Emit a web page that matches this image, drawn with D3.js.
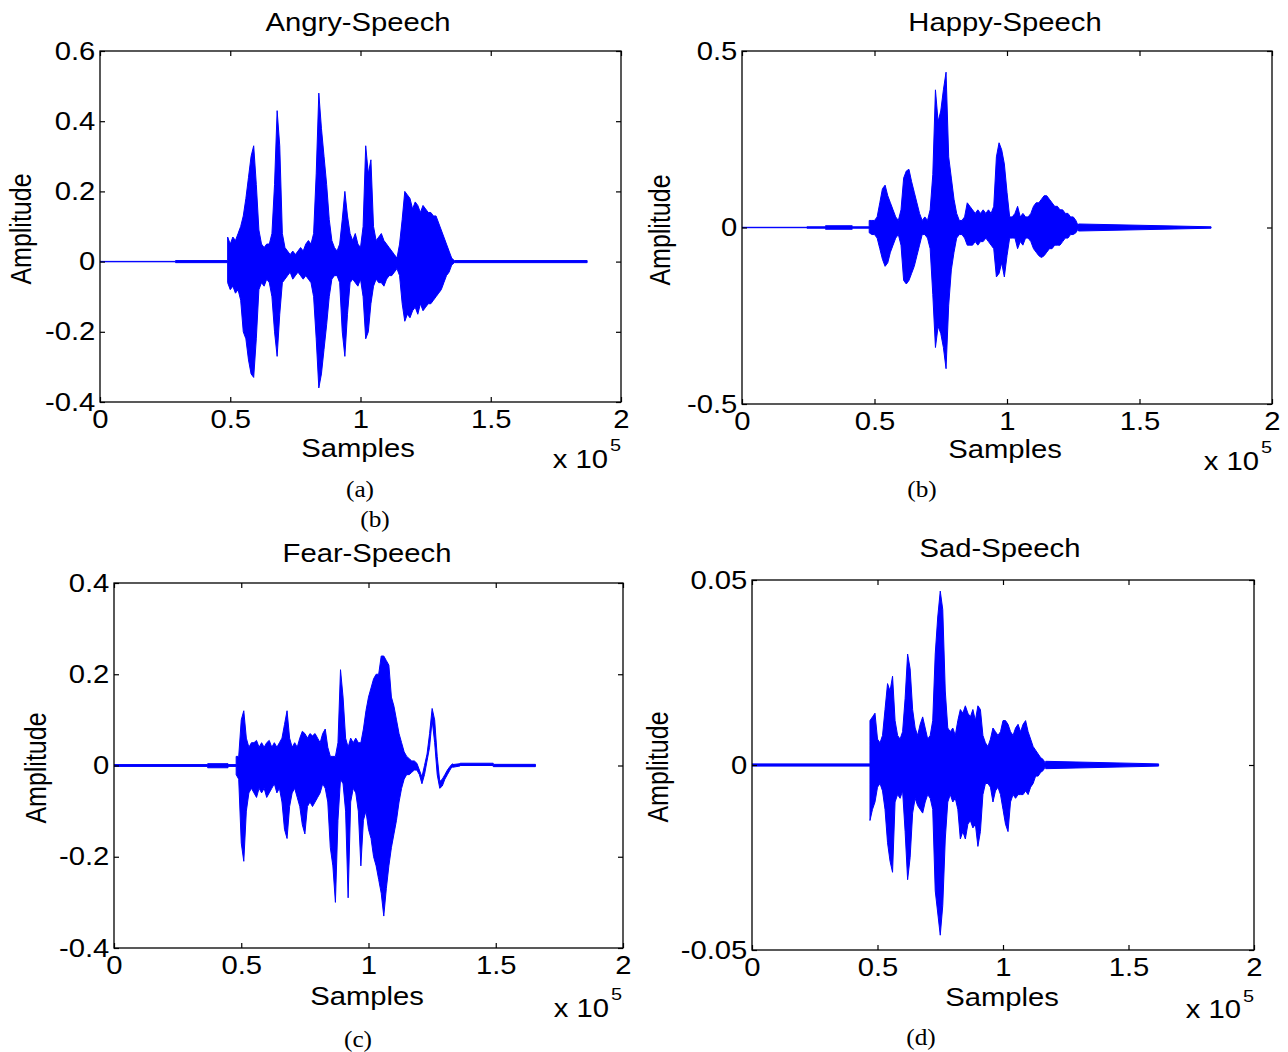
<!DOCTYPE html>
<html>
<head>
<meta charset="utf-8">
<script src="https://cdn.jsdelivr.net/npm/d3@7"></script>
<style>
  body { margin: 0; background: #ffffff; }
  svg { display: block; }
</style>
</head>
<body>
<svg id="fig" width="1288" height="1052"></svg>
<script>
// ---- shared axis labels -------------------------------------------------
const xTickValues = [0, 50000, 100000, 150000, 200000];
const xTickLabels = ["0", "0.5", "1", "1.5", "2"];
const titles = ["Angry-Speech", "Happy-Speech", "Fear-Speech", "Sad-Speech"];
const captions = ["(a)", "(b)", "(c)", "(d)"];
const xLabel = "Samples";
const yLabel = "Amplitude";

// ---- y ticks per panel -------------------------------------------------
const angryYTicks = [-0.4, -0.2, 0, 0.2, 0.4, 0.6];
const happyYTicks = [-0.5, 0, 0.5];
const fearYTicks = [-0.4, -0.2, 0, 0.2, 0.4];
const sadYTicks = [-0.05, 0, 0.05];

// ---- waveform envelopes: max / min per 1000-sample bin ------------------
// each list starts at the bin given by *Start (thousands of samples)
const angryStart = 49;
const angryHi = [0.07,0.05,0.07,0.06,0.08,0.10,0.13,0.18,0.24,0.30,0.33,0.22,0.09,0.05,0.04,0.05,0.05,0.08,0.22,0.43,
  0.33,0.08,0.04,0.03,0.02,0.03,0.02,0.03,0.04,0.03,0.05,0.06,0.05,0.08,0.25,0.48,0.38,0.30,0.22,0.12,
  0.06,0.04,0.03,0.05,0.12,0.20,0.13,0.08,0.06,0.08,0.05,0.04,0.10,0.33,0.25,0.29,0.10,0.06,0.07,0.08,
  0.06,0.05,0.04,0.03,0.02,0.01,0.05,0.12,0.20,0.19,0.18,0.15,0.17,0.16,0.14,0.16,0.15,0.14,0.14,0.13,
  0.13,0.11,0.09,0.07,0.05,0.03,0.01];
const angryLo = [-0.06,-0.08,-0.07,-0.09,-0.08,-0.11,-0.20,-0.22,-0.28,-0.32,-0.33,-0.22,-0.08,-0.06,-0.07,-0.05,-0.06,-0.10,-0.20,-0.27,
  -0.15,-0.06,-0.05,-0.04,-0.03,-0.05,-0.04,-0.03,-0.04,-0.05,-0.04,-0.05,-0.06,-0.10,-0.22,-0.36,-0.32,-0.25,-0.18,-0.10,
  -0.05,-0.04,-0.04,-0.06,-0.20,-0.27,-0.15,-0.06,-0.05,-0.06,-0.07,-0.05,-0.10,-0.22,-0.20,-0.12,-0.07,-0.05,-0.06,-0.06,
  -0.07,-0.05,-0.04,-0.04,-0.03,-0.02,-0.04,-0.12,-0.17,-0.15,-0.16,-0.14,-0.13,-0.15,-0.12,-0.14,-0.13,-0.12,-0.12,-0.11,
  -0.10,-0.09,-0.08,-0.06,-0.04,-0.03,-0.01];
// quiet stretches: [from, to, min, max]
const angryQuiet = [[0, 29, -0.0006, 0.0006], [29, 49, -0.003, 0.003], [136, 187, -0.003, 0.003]];

const happyStart = 48;
const happyHi = [0.02,0.02,0.02,0.03,0.07,0.11,0.12,0.09,0.07,0.05,0.03,0.02,0.05,0.14,0.16,0.165,0.13,0.10,0.07,0.04,
  0.02,0.03,0.02,0.05,0.15,0.39,0.30,0.33,0.39,0.44,0.20,0.14,0.08,0.04,0.02,0.02,0.03,0.07,0.06,0.05,
  0.04,0.05,0.04,0.05,0.04,0.05,0.04,0.06,0.20,0.24,0.22,0.18,0.10,0.03,0.03,0.04,0.06,0.03,0.04,0.03,
  0.03,0.04,0.06,0.07,0.07,0.08,0.09,0.09,0.08,0.07,0.06,0.06,0.05,0.05,0.04,0.04,0.03,0.03,0.02,0.01];
const happyLo = [-0.015,-0.02,-0.02,-0.03,-0.06,-0.09,-0.11,-0.10,-0.07,-0.05,-0.03,-0.02,-0.05,-0.15,-0.16,-0.15,-0.13,-0.11,-0.08,-0.05,
  -0.02,-0.02,-0.03,-0.06,-0.19,-0.34,-0.28,-0.30,-0.34,-0.40,-0.22,-0.12,-0.07,-0.03,-0.02,-0.02,-0.03,-0.05,-0.05,-0.05,
  -0.04,-0.05,-0.04,-0.04,-0.03,-0.04,-0.05,-0.06,-0.14,-0.13,-0.10,-0.14,-0.08,-0.03,-0.03,-0.03,-0.06,-0.04,-0.05,-0.03,
  -0.03,-0.04,-0.06,-0.07,-0.08,-0.085,-0.08,-0.07,-0.06,-0.06,-0.05,-0.05,-0.05,-0.04,-0.03,-0.03,-0.02,-0.02,-0.015,-0.01];
const happyQuiet = [[0, 24.5, -0.0006, 0.0006], [24.5, 31.5, -0.002, 0.002], [31.5, 41.6, -0.005, 0.005],
  [41.6, 48, -0.002, 0.002], [127, 177, -0.002, 0.002]];

const fearStart = 48;
const fearHi = [0.02,0.02,0.10,0.12,0.06,0.04,0.05,0.05,0.055,0.04,0.05,0.04,0.05,0.055,0.04,0.05,0.04,0.05,0.06,0.09,
  0.12,0.06,0.04,0.05,0.04,0.06,0.075,0.07,0.06,0.07,0.065,0.07,0.06,0.05,0.07,0.08,0.04,0.02,0.02,0.02,
  0.05,0.21,0.15,0.06,0.04,0.06,0.05,0.06,0.05,0.05,0.08,0.12,0.15,0.17,0.19,0.20,0.20,0.24,0.24,0.23,
  0.22,0.15,0.13,0.10,0.07,0.05,0.03,0.02,0.015,0.01,0.01,0.005,-0.01,-0.025,0.0,0.025,0.07,0.125,0.10,0.02,
  -0.035,-0.03,-0.02,-0.01,-0.002,0.002];
const fearLo = [-0.02,-0.03,-0.17,-0.21,-0.10,-0.06,-0.05,-0.06,-0.07,-0.05,-0.06,-0.05,-0.07,-0.06,-0.05,-0.04,-0.06,-0.05,-0.08,-0.14,
  -0.16,-0.09,-0.06,-0.05,-0.07,-0.09,-0.13,-0.15,-0.09,-0.08,-0.09,-0.08,-0.07,-0.06,-0.04,-0.05,-0.08,-0.18,-0.22,-0.30,
  -0.12,-0.03,-0.04,-0.10,-0.29,-0.08,-0.05,-0.06,-0.10,-0.22,-0.12,-0.10,-0.14,-0.16,-0.20,-0.22,-0.25,-0.28,-0.33,-0.27,
  -0.22,-0.18,-0.15,-0.12,-0.08,-0.05,-0.03,-0.02,-0.02,-0.015,-0.01,-0.01,-0.02,-0.04,-0.02,0.01,0.04,0.10,0.05,-0.02,
  -0.05,-0.045,-0.03,-0.02,-0.01,-0.004];
const fearQuiet = [[0, 36.8, -0.002, 0.002], [36.8, 44.8, -0.005, 0.004], [44.8, 48, -0.002, 0.002],
  [133, 136, -0.001, 0.004], [136, 149, 0.0, 0.005], [149, 165.6, -0.0025, 0.0025]];

const sadStart = 47;
const sadHi = [0.012,0.013,0.014,0.007,0.006,0.008,0.015,0.022,0.020,0.024,0.012,0.008,0.007,0.009,0.018,0.030,0.026,0.015,0.010,0.008,
  0.011,0.013,0.010,0.007,0.008,0.012,0.030,0.040,0.047,0.042,0.020,0.010,0.009,0.010,0.008,0.012,0.015,0.014,0.016,0.014,
  0.013,0.015,0.012,0.016,0.015,0.008,0.006,0.005,0.007,0.010,0.009,0.008,0.009,0.012,0.012,0.011,0.009,0.008,0.010,0.011,
  0.009,0.011,0.012,0.009,0.007,0.005,0.004,0.003,0.002,0.0015,0.001];
const sadLo = [-0.015,-0.012,-0.010,-0.006,-0.005,-0.007,-0.012,-0.021,-0.026,-0.029,-0.010,-0.008,-0.009,-0.007,-0.018,-0.031,-0.025,-0.013,-0.009,-0.011,
  -0.012,-0.013,-0.010,-0.008,-0.009,-0.012,-0.034,-0.040,-0.046,-0.038,-0.020,-0.010,-0.008,-0.010,-0.009,-0.012,-0.020,-0.018,-0.020,-0.016,
  -0.015,-0.017,-0.016,-0.022,-0.018,-0.008,-0.005,-0.005,-0.006,-0.010,-0.007,-0.006,-0.008,-0.012,-0.016,-0.018,-0.010,-0.008,-0.009,-0.008,
  -0.008,-0.008,-0.007,-0.008,-0.006,-0.005,-0.003,-0.003,-0.002,-0.0015,-0.001];
const sadQuiet = [[0, 47, -0.0003, 0.0003], [117, 162, -0.0003, 0.0003]];

// ---- figure layout ----------------------------------------------------
const FONT = "'Liberation Sans', Arial, Helvetica, sans-serif";
const SERIF = "'Liberation Serif', 'Times New Roman', serif";
const FS = 25;          // axis text size
const SX = 1.17;        // horizontal glyph stretch of the figure text
const BLUE = "#0000ff";

const panels = [
  { title: titles[0], caption: captions[0], yTicks: angryYTicks, start: angryStart, hi: angryHi, lo: angryLo, quiet: angryQuiet,
    box: [100, 621, 51, 402], titleAt: [358, 31], xlabAt: [358, 457], ylabAt: [31, 229], expAt: [608, 468, 451], capAt: [360, 497] },
  { title: titles[1], caption: captions[1], yTicks: happyYTicks, start: happyStart, hi: happyHi, lo: happyLo, quiet: happyQuiet,
    box: [742, 1272, 51, 404], titleAt: [1005, 31], xlabAt: [1005, 458], ylabAt: [670, 230], expAt: [1259, 470, 453], capAt: [922, 497] },
  { title: titles[2], caption: captions[2], yTicks: fearYTicks, start: fearStart, hi: fearHi, lo: fearLo, quiet: fearQuiet,
    box: [114, 623, 583, 948], titleAt: [367, 562], xlabAt: [367, 1005], ylabAt: [46, 768], expAt: [609, 1017, 1000], capAt: [358, 1047] },
  { title: titles[3], caption: captions[3], yTicks: sadYTicks, start: sadStart, hi: sadHi, lo: sadLo, quiet: sadQuiet,
    box: [752, 1254, 580, 950], titleAt: [1000, 557], xlabAt: [1002, 1006], ylabAt: [668, 767], expAt: [1241, 1018, 1002], capAt: [921, 1045] }
];

const svg = d3.select("#fig");

function label(g, text, x, y, opts = {}) {
  const t = g.append("text")
    .attr("transform", opts.rotate
      ? `translate(${x},${y}) rotate(-90) scale(1,${SX})`
      : `translate(${x},${y}) scale(${opts.sx ?? SX},1)`)
    .attr("text-anchor", opts.anchor || "middle")
    .attr("font-family", opts.family || FONT)
    .attr("font-size", opts.size || FS)
    .attr("fill", "#000")
    .text(text);
  return t;
}

function envelopePoints(p) {
  const pts = [];
  p.quiet.forEach(([a, b, l, h]) => { pts.push({ k: a, lo: l, hi: h }); pts.push({ k: b, lo: l, hi: h }); });
  p.hi.forEach((v, i) => pts.push({ k: p.start + i, hi: v, lo: p.lo[i] }));
  pts.sort((a, b) => a.k - b.k);
  return pts;
}

panels.forEach((p, idx) => {
  const [x0, x1, y0, y1] = p.box;
  const yMin = d3.min(p.yTicks), yMax = d3.max(p.yTicks);
  const x = d3.scaleLinear().domain([0, 200000]).range([x0, x1]);
  const y = d3.scaleLinear().domain([yMin, yMax]).range([y1, y0]);
  const g = svg.append("g");

  // clip for the waveform
  const clipId = "clip" + idx;
  svg.append("clipPath").attr("id", clipId)
    .append("rect").attr("x", x0).attr("y", y0).attr("width", x1 - x0).attr("height", y1 - y0);

  // waveform drawn as its min/max envelope
  const area = d3.area()
    .x(d => x(d.k * 1000))
    .y0(d => y(d.lo))
    .y1(d => y(d.hi));
  g.append("path")
    .datum(envelopePoints(p))
    .attr("clip-path", `url(#${clipId})`)
    .attr("d", area)
    .attr("fill", BLUE)
    .attr("stroke", BLUE)
    .attr("stroke-width", 1)
    .attr("stroke-linejoin", "round");

  // axes with inward ticks on every side
  const fmtX = (d, i) => xTickLabels[i];
  const fmtY = d => String(d);
  const axB = d3.axisBottom(x).tickValues(xTickValues).tickFormat(fmtX).tickSizeInner(-5).tickSizeOuter(0).tickPadding(8);
  const axT = d3.axisTop(x).tickValues(xTickValues).tickFormat("").tickSizeInner(-5).tickSizeOuter(0);
  const axL = d3.axisLeft(y).tickValues(p.yTicks).tickFormat(fmtY).tickSizeInner(-5).tickSizeOuter(0).tickPadding(4);
  const axR = d3.axisRight(y).tickValues(p.yTicks).tickFormat("").tickSizeInner(-5).tickSizeOuter(0);

  const gb = g.append("g").attr("transform", `translate(0,${y1})`).call(axB);
  const gt = g.append("g").attr("transform", `translate(0,${y0})`).call(axT);
  const gl = g.append("g").attr("transform", `translate(${x0},0)`).call(axL);
  const gr = g.append("g").attr("transform", `translate(${x1},0)`).call(axR);
  [gb, gt, gl, gr].forEach(a => {
    a.select(".domain").remove();
    a.selectAll("line").attr("stroke", "#000").attr("stroke-width", 1.2);
    a.selectAll("text").attr("font-family", FONT).attr("font-size", FS).attr("fill", "#000")
      .attr("transform", `scale(${SX},1)`);
  });

  // frame
  g.append("rect").attr("x", x0).attr("y", y0).attr("width", x1 - x0).attr("height", y1 - y0)
    .attr("fill", "none").attr("stroke", "#000").attr("stroke-width", 1.3);

  // texts
  label(g, p.title, p.titleAt[0], p.titleAt[1]);
  label(g, xLabel, p.xlabAt[0], p.xlabAt[1]);
  label(g, yLabel, p.ylabAt[0], p.ylabAt[1], { rotate: true });
  label(g, "x 10", p.expAt[0], p.expAt[1], { anchor: "end" });
  label(g, "5", p.expAt[0] + 2, p.expAt[2], { anchor: "start", size: 17 });
  label(g, p.caption, p.capAt[0], p.capAt[1], { family: SERIF, size: 23, sx: 1.1 });
});

// extra caption line printed under the first panel
label(svg, captions[1], 375, 527, { family: SERIF, size: 23, sx: 1.1 });
</script>
</body>
</html>
